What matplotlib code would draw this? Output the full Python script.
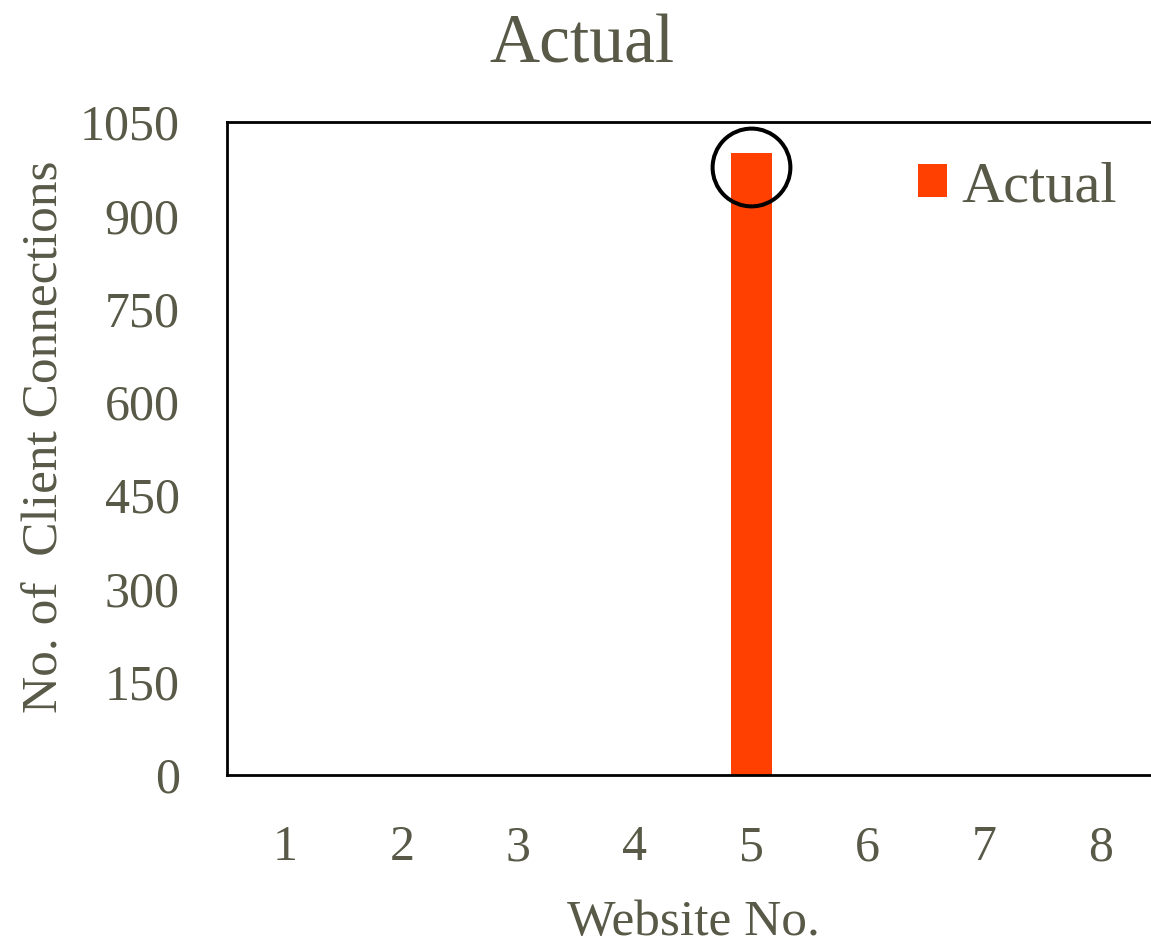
import matplotlib.pyplot as plt

# Client connections per website
websites = [1, 2, 3, 4, 5, 6, 7, 8]
actual = [0, 0, 0, 0, 1000, 0, 0, 0]
y_ticks = [0, 150, 300, 450, 600, 750, 900, 1050]

# highlighted peak
peak_site = 5
peak_mark = 977

text_color = '#595948'
bar_color = '#ff4000'

plt.rcParams['font.family'] = ['Liberation Serif', 'DejaVu Serif']

W, H = 1151, 944
fig = plt.figure(figsize=(W / 100, H / 100), dpi=100)
ax = fig.add_axes([227 / W, 1 - 775 / H, (1159 - 227) / W, (775 - 122) / H])

ax.bar(websites, actual, width=0.35, color=bar_color, label='Actual')
ax.plot(peak_site, peak_mark, 'o', ms=56, mfc='none', mec='black', mew=2.9, clip_on=False)

ax.set_xlim(0.5, 8.5)
ax.set_ylim(0, 1050)
ax.set_xticks(websites)
ax.set_yticks(y_ticks)
ax.tick_params(axis='both', length=0, labelsize=36, labelcolor=text_color)
ax.tick_params(axis='x', pad=36)
ax.tick_params(axis='y', pad=34)

for spine in ax.spines.values():
    spine.set_linewidth(2)
    spine.set_color('black')

ax.set_xlabel('Website No.', fontsize=37, color=text_color, labelpad=20)
ax.set_ylabel('No. of  Client Connections', fontsize=37, color=text_color, labelpad=8)
ax.yaxis.label.set_y(0.518)
# title is centred on the figure rather than on the axes
ax.set_title('Actual', fontsize=50, color=text_color, pad=43, x=(W / 2 + 6 - 227) / (1159 - 227))

leg = ax.legend(loc='center left', bbox_to_anchor=(918 / W, 1 - 187 / H),
                bbox_transform=fig.transFigure, frameon=False, borderpad=0,
                borderaxespad=0, fontsize=42, handlelength=0.5, handleheight=0.5,
                handletextpad=0.25)
for t in leg.get_texts():
    t.set_color(text_color)

fig.savefig('out.png', dpi=100)
